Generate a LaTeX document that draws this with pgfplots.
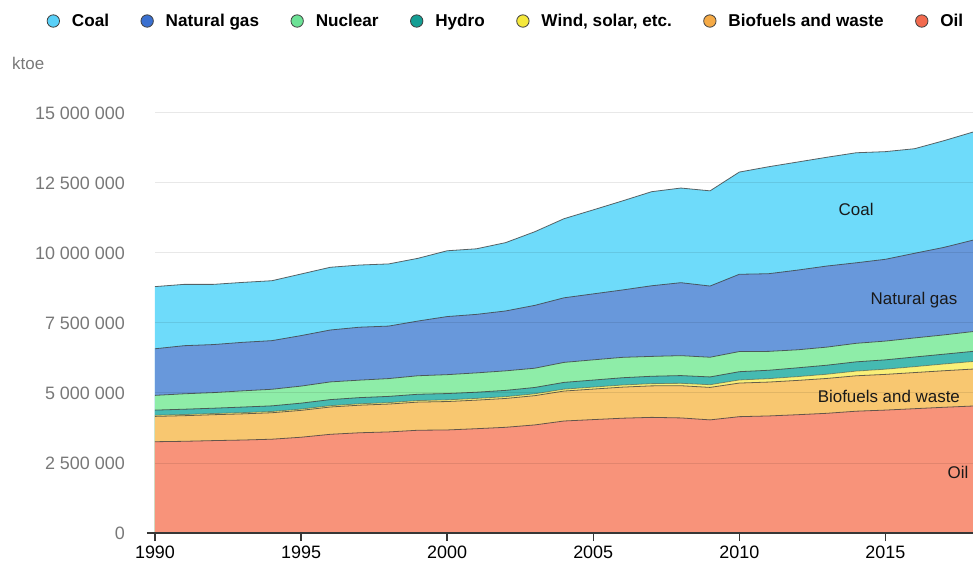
\documentclass[border=0pt]{standalone}
\usepackage{fontspec}
\setmainfont{Liberation Sans}
\usepackage{pgfplots}
\pgfplotsset{compat=1.18}
\usepackage{pgfplotstable}

\definecolor{coalF}{RGB}{110,219,250}
\definecolor{gasF}{RGB}{104,152,219}
\definecolor{nucF}{RGB}{142,237,168}
\definecolor{hydroF}{RGB}{69,186,178}
\definecolor{windF}{RGB}{250,240,120}
\definecolor{bioF}{RGB}{248,199,112}
\definecolor{oilF}{RGB}{248,147,122}
\definecolor{coalL}{RGB}{89,208,248}
\definecolor{gasL}{RGB}{58,112,208}
\definecolor{nucL}{RGB}{108,226,150}
\definecolor{hydroL}{RGB}{20,158,148}
\definecolor{windL}{RGB}{245,232,60}
\definecolor{bioL}{RGB}{245,170,70}
\definecolor{oilL}{RGB}{242,106,78}
\definecolor{tickgray}{RGB}{120,120,120}
\definecolor{axisgray}{RGB}{55,55,55}
\definecolor{labelc}{RGB}{25,25,25}

\pgfplotstableread{
year coal gas nuc hydro wind bio oil
1990 2220000 1665000 526000 184000 40000 905000 3260000
1991 2190000 1718000 551000 190000 41000 915000 3275000
1992 2150000 1716000 557000 190000 42000 925000 3300000
1993 2140000 1733000 579000 200000 43000 935000 3320000
1994 2140000 1737000 592000 202000 44000 945000 3350000
1995 2200000 1804000 608000 213000 45000 960000 3420000
1996 2240000 1854000 632000 217000 47000 975000 3525000
1997 2220000 1891000 624000 221000 49000 985000 3580000
1998 2220000 1875000 636000 223000 51000 995000 3610000
1999 2240000 1954000 661000 225000 55000 1005000 3670000
2000 2350000 2075000 675000 225000 60000 1015000 3680000
2001 2342000 2090000 690000 222000 61000 1020000 3725000
2002 2440000 2139000 697000 226000 63000 1030000 3775000
2003 2630000 2245000 687000 228000 65000 1045000 3860000
2004 2825000 2307000 714000 242000 67000 1070000 4000000
2005 3000000 2356000 722000 252000 70000 1090000 4050000
2006 3180000 2407000 728000 261000 74000 1110000 4100000
2007 3360000 2523000 709000 264000 79000 1125000 4130000
2008 3380000 2606000 712000 276000 86000 1150000 4110000
2009 3400000 2543000 703000 279000 95000 1160000 4040000
2010 3650000 2760000 719000 296000 110000 1200000 4155000
2011 3820000 2774000 674000 300000 122000 1210000 4180000
2012 3860000 2847000 643000 315000 135000 1225000 4225000
2013 3885000 2896000 646000 323000 150000 1245000 4275000
2014 3930000 2876000 661000 331000 167000 1265000 4350000
2015 3845000 2921000 670000 334000 185000 1275000 4390000
2016 3735000 3024000 680000 346000 210000 1290000 4440000
2017 3810000 3126000 688000 351000 240000 1305000 4490000
2018 3860000 3266000 707000 362000 270000 1320000 4535000
}\datatable

\pgfplotsset{
  ledot/.style={legend image code/.code={\draw[line width=0.8bp, draw=black!75, fill=#1] (6.5bp,0bp) circle (6.2bp);}},
  bline/.style={forget plot, draw=black!75, draw opacity=0.8, line width=0.8bp},
}

\begin{document}
\begin{tikzpicture}
\begin{axis}[
  name=ax,
  scale only axis,
  width=818bp, height=420bp,
  xmin=1990, xmax=2018, ymin=0, ymax=15000000,
  axis on top,
  axis x line*=bottom,
  axis y line*=left,
  y axis line style={draw=none},
  x axis line style={line width=1.6bp, color=axisgray, shorten <=-8bp},
  ytick={0,2500000,5000000,7500000,10000000,12500000,15000000},
  scaled y ticks=false,
  yticklabel={\pgfmathprintnumber[fixed,1000 sep={\ },assume math mode=true]{\tick}},
  yticklabel style={font=\fontsize{18}{20}\selectfont, text=tickgray, anchor=east, inner sep=0pt, xshift=-22bp},
  ytick style={draw=none},
  ymajorgrids,
  grid style={black, opacity=0.09, line width=1bp},
  xtick={1990,1995,2000,2005,2010,2015},
  xticklabel={\pgfmathprintnumber[1000 sep={},assume math mode=true]{\tick}},
  xticklabel style={font=\fontsize{18}{20}\selectfont, text=black, anchor=north, inner sep=0pt, yshift=-5bp},
  tick align=outside,
  major tick length=8bp,
  xtick style={line width=1.4bp, color=axisgray},
  legend columns=7,
  legend cell align=left,
  legend style={at={(axis description cs:-0.1326,1.219)}, anchor=west, draw=none, fill=none, inner sep=0pt,
    font=\bfseries\fontsize{17.2}{20}\selectfont,
    /tikz/every odd column/.append style={column sep=10bp},
    /tikz/every even column/.append style={column sep=29.5bp}},
]
\addplot[fill=coalF, draw=none, ledot=coalL] table[x=year, y expr=\thisrow{oil}+\thisrow{bio}+\thisrow{wind}+\thisrow{hydro}+\thisrow{nuc}+\thisrow{gas}+\thisrow{coal}] {\datatable} \closedcycle;
\addlegendentry{Coal}
\addplot[fill=gasF, draw=none, ledot=gasL] table[x=year, y expr=\thisrow{oil}+\thisrow{bio}+\thisrow{wind}+\thisrow{hydro}+\thisrow{nuc}+\thisrow{gas}] {\datatable} \closedcycle;
\addlegendentry{Natural gas}
\addplot[fill=nucF, draw=none, ledot=nucL] table[x=year, y expr=\thisrow{oil}+\thisrow{bio}+\thisrow{wind}+\thisrow{hydro}+\thisrow{nuc}] {\datatable} \closedcycle;
\addlegendentry{Nuclear}
\addplot[fill=hydroF, draw=none, ledot=hydroL] table[x=year, y expr=\thisrow{oil}+\thisrow{bio}+\thisrow{wind}+\thisrow{hydro}] {\datatable} \closedcycle;
\addlegendentry{Hydro}
\addplot[fill=windF, draw=none, ledot=windL] table[x=year, y expr=\thisrow{oil}+\thisrow{bio}+\thisrow{wind}] {\datatable} \closedcycle;
\addlegendentry{Wind, solar, etc.}
\addplot[fill=bioF, draw=none, ledot=bioL] table[x=year, y expr=\thisrow{oil}+\thisrow{bio}] {\datatable} \closedcycle;
\addlegendentry{Biofuels and waste}
\addplot[fill=oilF, draw=none, ledot=oilL] table[x=year, y=oil] {\datatable} \closedcycle;
\addlegendentry{Oil}

\addplot[bline] table[x=year, y expr=\thisrow{oil}+\thisrow{bio}+\thisrow{wind}+\thisrow{hydro}+\thisrow{nuc}+\thisrow{gas}+\thisrow{coal}] {\datatable};
\addplot[bline] table[x=year, y expr=\thisrow{oil}+\thisrow{bio}+\thisrow{wind}+\thisrow{hydro}+\thisrow{nuc}+\thisrow{gas}] {\datatable};
\addplot[bline] table[x=year, y expr=\thisrow{oil}+\thisrow{bio}+\thisrow{wind}+\thisrow{hydro}+\thisrow{nuc}] {\datatable};
\addplot[bline] table[x=year, y expr=\thisrow{oil}+\thisrow{bio}+\thisrow{wind}+\thisrow{hydro}] {\datatable};
\addplot[bline, draw opacity=0.5] table[x=year, y expr=\thisrow{oil}+\thisrow{bio}+\thisrow{wind}] {\datatable};
\addplot[bline] table[x=year, y expr=\thisrow{oil}+\thisrow{bio}] {\datatable};
\addplot[bline] table[x=year, y=oil] {\datatable};

\node[font=\fontsize{17}{20}\selectfont, text=labelc] at (axis cs:2014,11540000) {Coal};
\node[font=\fontsize{17}{20}\selectfont, text=labelc] at (axis cs:2015.98,8330000) {Natural gas};
\node[font=\fontsize{17}{20}\selectfont, text=labelc, anchor=east, inner sep=0pt] at (axis cs:2017.56,4890000) {Biofuels and waste};
\node[font=\fontsize{17}{20}\selectfont, text=labelc, anchor=east, inner sep=0pt] at (axis cs:2017.85,2180000) {Oil};
\end{axis}
\node[anchor=west, inner sep=0pt, font=\fontsize{17}{20}\selectfont, text=tickgray] at ([xshift=-143bp, yshift=50bp]ax.north west) {ktoe};
\pgfresetboundingbox
\path[use as bounding box] ([xshift=-155bp,yshift=-33bp]ax.south west) rectangle ([yshift=113bp]ax.north east);
\end{tikzpicture}
\end{document}
